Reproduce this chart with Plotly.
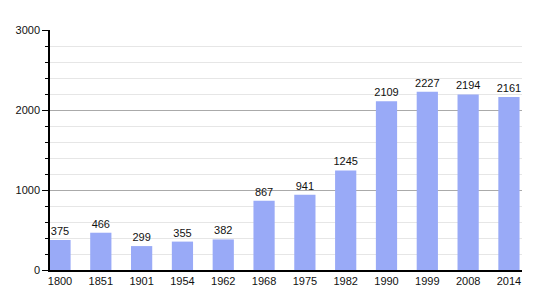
import plotly.graph_objects as go

years = ["1800", "1851", "1901", "1954", "1962", "1968", "1975", "1982", "1990", "1999", "2008", "2014"]
population = [375, 466, 299, 355, 382, 867, 941, 1245, 2109, 2227, 2194, 2161]

fig = go.Figure()
fig.add_trace(go.Bar(
    x=years, y=population,
    marker=dict(color="#99aaf7", line=dict(width=0)),
    width=0.52,
    text=[str(v) for v in population],
    textposition="outside",
    constraintext="none",
    textfont=dict(family="Liberation Sans, Arial", size=11, color="#111111"),
    cliponaxis=False,
))

fig.update_layout(
    width=550, height=300,
    margin=dict(l=50, r=28, t=30, b=30),
    plot_bgcolor="white", paper_bgcolor="white",
    showlegend=False,
    font=dict(family="Liberation Sans, Arial", size=11, color="#111111"),
    bargap=0.48,
)
fig.update_xaxes(
    type="category",
    range=[-0.245, 11.32],
    showline=True, linecolor="black", linewidth=1.5,
    ticks="", showgrid=False,
    tickfont=dict(size=11, color="#111111"),
)
fig.update_yaxes(
    range=[0, 3000],
    tickvals=[0, 1000, 2000, 3000],
    showline=True, linecolor="black", linewidth=1.5,
    ticks="outside", ticklen=6, tickcolor="black", tickwidth=1,
    showgrid=True, gridcolor="#aaaaaa", gridwidth=1,
    minor=dict(dtick=200, showgrid=True, gridcolor="#e6e6e6", gridwidth=1,
               ticks="outside", ticklen=3, tickcolor="black"),
    tickfont=dict(size=11, color="#111111"),
    zeroline=False,
)

fig.write_html("out.html")
